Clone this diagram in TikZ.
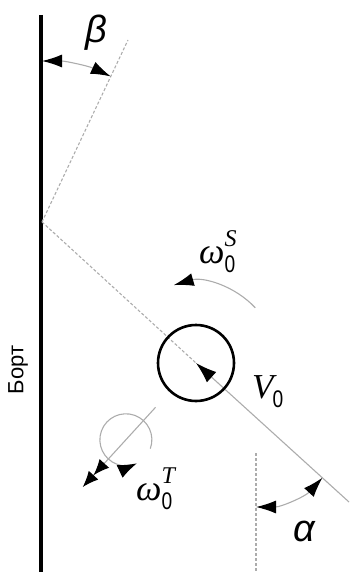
\documentclass[tikz,border=0pt]{standalone}
\usepackage{fontspec}
\setmainfont{Liberation Serif}
\setsansfont{Liberation Sans}
\usetikzlibrary{arrows.meta}
\tikzset{
  ln/.style={draw=gray!65,line width=1.1pt},
  dln/.style={ln,dash pattern=on 3pt off 2pt},
  hd/.style={-{Latex[length=20pt,width=13pt,color=black]}},
  hdb/.style={{Latex[length=20pt,width=13pt,color=black]}-{Latex[length=20pt,width=13pt,color=black]}},
  grk/.style={font=\sffamily\itshape\fontsize{38}{38}\selectfont},
  lab/.style={anchor=base west,inner sep=0pt}
}
\newcommand{\zerosub}{\raisebox{-9pt}{\fontsize{24}{24}\selectfont\sffamily\scalebox{0.8}[1]{0}}}
\newcommand{\omlab}[1]{{\fontsize{36}{36}\selectfont\itshape ω}\rlap{\raisebox{17pt}{\fontsize{24}{24}\selectfont\itshape #1}}\zerosub}
\begin{document}
\begin{tikzpicture}[x=1pt,y=1pt]
\useasboundingbox (0,0) rectangle (349,-572);
\coordinate (wt) at (41,-15);
\coordinate (wb) at (41,-572);
\coordinate (h) at (42,-222);
\coordinate (r) at (128,-40);
\coordinate (b) at (196,-363);
\coordinate (f) at (349,-502);
\coordinate (vt) at (256,-453);
\coordinate (vb) at (256,-572);
\coordinate (as) at (256,-507);
\coordinate (bs) at (42,-61);
\coordinate (ws) at ([shift={(43:81)}]b);
\coordinate (x1) at ([shift={(-132.4:60)}]b);
\coordinate (x2) at ([shift={(-132.4:168)}]b);
\coordinate (s) at ([shift={(-132.4:104)}]b);
\coordinate (ss) at ([shift={(-20:26)}]s);
\draw[line width=3.2pt] (wt)--(wb);
\node[rotate=90,font=\sffamily\fontsize{22}{22}\selectfont] (bort) at (18,-370) {Борт};
\draw[dln] (h)--(r);
\draw[dln] (h)--(b);
\draw[ln,{Latex[length=21pt,width=14pt,color=black]}-] (b)--(f);
\node[circle,draw,line width=2.6pt,minimum size=76pt,inner sep=0pt] (c) at (b) {};
\draw[dln] (vt)--(vb);
\draw[ln,hdb] (as) arc[start angle=-90,end angle=-42.4,radius=90];
\draw[ln,hdb] (bs) arc[start angle=90,end angle=64.7,radius=161];
\draw[ln,hd] (ws) arc[start angle=43,end angle=106,radius=81];
\draw[ln,-{Latex[length=16pt,width=13pt,color=black]Latex[length=16pt,width=13pt,color=black]}] (x1)--(x2);
\draw[ln,-{Latex[length=19pt,width=14pt,color=black]}] (ss) arc[start angle=-20,end angle=295,radius=26];
\node[grk] (be) at (96,-33) {β};
\node[grk] (al) at (304,-531) {α};
\node[lab] (os) at (199,-263) {\omlab{S}};
\node[lab] (ot) at (136,-500) {\omlab{T}};
\node[lab] (v) at (252,-398) {{\fontsize{35}{35}\selectfont\itshape V}\kern-1pt\zerosub};
\end{tikzpicture}
\end{document}
